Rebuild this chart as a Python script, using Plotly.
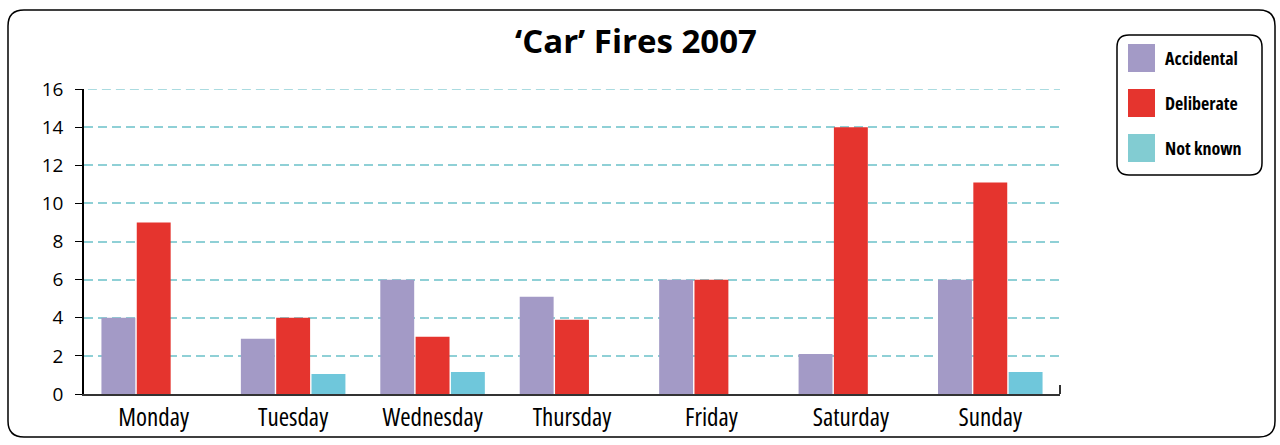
import plotly.graph_objects as go

days = ["Monday", "Tuesday", "Wednesday", "Thursday", "Friday", "Saturday", "Sunday"]
accidental = [4, 2.9, 6, 5.1, 6, 2.1, 6]
deliberate = [9, 4, 3, 3.9, 6, 14, 11.1]
not_known = [0, 1.05, 1.15, 0, 0, 0, 1.15]

series_names = ["Accidental", "Deliberate", "Not known"]
bar_colors = ["#a39ac6", "#e5342e", "#6fc7db"]
legend_colors = ["#a39ac6", "#e5342e", "#82ccd2"]
y_ticks = [0, 2, 4, 6, 8, 10, 12, 14, 16]

W, H = 1280, 445
L, R, T, B = 84, 220, 89, 51
FONT = "Open Sans, sans-serif"
GRID = "#8fd0d6"


def cond(s, stretch="condensed"):
    return f"<span style='font-stretch:{stretch}'>{s}</span>"


def px_x(x):
    return (x - L) / (W - L - R)


def px_y(y):
    return (H - B - y) / (H - T - B)


def rounded_rect(x0, y0, x1, y1, r):
    # path in pixel coords, converted to paper coords
    pts = [
        ("M", [(x0 + r, y0)]), ("L", [(x1 - r, y0)]), ("Q", [(x1, y0), (x1, y0 + r)]),
        ("L", [(x1, y1 - r)]), ("Q", [(x1, y1), (x1 - r, y1)]),
        ("L", [(x0 + r, y1)]), ("Q", [(x0, y1), (x0, y1 - r)]),
        ("L", [(x0, y0 + r)]), ("Q", [(x0, y0), (x0 + r, y0)]),
    ]
    out = ""
    for cmd, coords in pts:
        out += cmd + " ".join(f"{px_x(a):.5f},{px_y(b):.5f}" for a, b in coords) + " "
    return out + "Z"


fig = go.Figure()
for name, vals, col in zip(series_names, [accidental, deliberate, not_known], bar_colors):
    fig.add_trace(go.Bar(x=days, y=vals, name=name, marker=dict(color=col, line_width=0)))

shapes = [
    dict(type="path", path=rounded_rect(8, 10, 1275, 437, 16), xref="paper", yref="paper",
         line=dict(color="black", width=1.5), layer="below"),
    dict(type="path", path=rounded_rect(1117, 35, 1262, 175, 12), xref="paper", yref="paper",
         line=dict(color="black", width=1.5)),
    dict(type="line", xref="paper", yref="paper", x0=1, x1=1, y0=0, y1=px_y(385),
         line=dict(color="#333", width=2)),
    # top gridline (plotly drops the one sitting on the plot edge)
    dict(type="line", xref="paper", yref="y", x0=0.004, x1=1, y0=y_ticks[-1], y1=y_ticks[-1],
         line=dict(color=GRID, width=1.5, dash="9px,5px"), layer="above"),
]
annotations = []
for i, (name, col) in enumerate(zip(series_names, legend_colors)):
    top = 44 + i * 45
    shapes.append(dict(type="rect", xref="paper", yref="paper",
                       x0=px_x(1128), x1=px_x(1155), y0=px_y(top), y1=px_y(top + 28),
                       fillcolor=col, line_width=0))
    annotations.append(dict(text=cond(name), xref="paper", yref="paper", x=px_x(1163), y=px_y(top + 14),
                            xanchor="left", yanchor="middle", showarrow=False,
                            font=dict(family=FONT, size=18, color="black", weight="bold")))

fig.update_layout(
    width=W, height=H,
    margin=dict(l=L, r=R, t=T, b=B),
    paper_bgcolor="white", plot_bgcolor="white",
    barmode="group", bargap=0.24, bargroupgap=0.04,
    showlegend=False,
    title=dict(text="‘Car’ Fires 2007", x=636 / W, xanchor="center",
               y=1 - 41 / H, yanchor="middle",
               font=dict(family=FONT, size=33, color="black", weight="bold")),
    font=dict(family=FONT, color="black"),
    shapes=shapes, annotations=annotations,
)
fig.update_xaxes(showline=True, linecolor="#333", linewidth=2, ticks="",
                 tickvals=days, ticktext=[cond(d) for d in days],
                 tickfont=dict(size=25), showgrid=False)
fig.update_yaxes(range=[0, 16], tickvals=y_ticks,
                 showline=True, linecolor="black", linewidth=1.5,
                 ticks="outside", ticklen=7, tickcolor="black", ticklabelstandoff=8,
                 tickfont=dict(size=19),
                 showgrid=True, gridcolor=GRID, griddash="9px,5px", gridwidth=1.5,
                 zeroline=False)

fig.write_html("out.html", config={"displayModeBar": False},
               post_script="document.body.style.margin='0';")
